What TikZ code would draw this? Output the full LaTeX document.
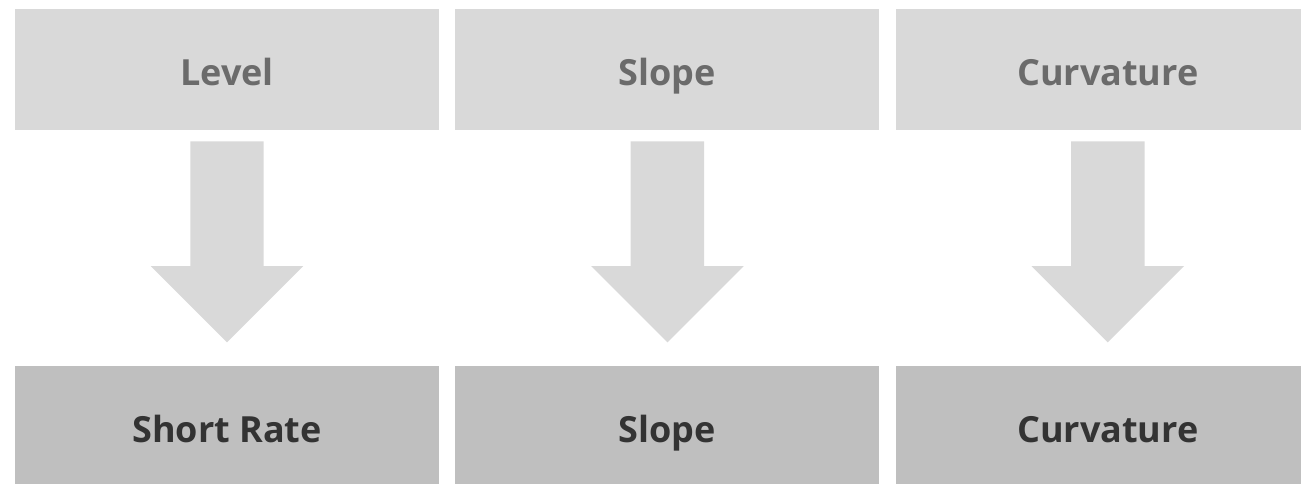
\documentclass[tikz,border=0pt]{standalone}
\usepackage{fontspec}
\setmainfont{Open Sans}
\definecolor{factorfill}{RGB}{217, 217, 217}
\definecolor{resultfill}{RGB}{191, 191, 191}
\definecolor{factortext}{RGB}{107, 107, 107}
\definecolor{resulttext}{RGB}{51, 51, 51}
\usetikzlibrary{positioning, shapes.arrows}
\tikzset{
    factorbox/.style={fill=factorfill, text=factortext, minimum width=424pt,
        minimum height=121pt, inner sep=0pt, text height=31pt, text depth=0pt,
        font=\fontsize{36}{43}\selectfont\bfseries},
    resultbox/.style={factorbox, fill=resultfill, text=resulttext},
    downarrow/.style={single arrow, fill=factorfill, inner sep=36.5pt,
        minimum height=201pt, single arrow head extend=39.5pt,
        single arrow tip angle=90, shape border rotate=270},
}

\begin{document}
\begin{tikzpicture}[x=1pt, y=1pt]
    \useasboundingbox (0, 0) rectangle (1301, -483);
    \node[factorbox] (level) at (227, -69.5) {Level};
    \node[factorbox, right=16pt of level] (slope) {Slope};
    \node[factorbox, right=16pt of slope] (curv) {Curvature};
    \node[resultbox, below=236pt of level] (short) {Short Rate};
    \node[resultbox, below=236pt of slope] (slopeout) {Slope};
    \node[resultbox, below=236pt of curv] (curvout) {Curvature};
    \foreach \from in {level, slope, curv}
        \node[downarrow, below=11pt of \from, anchor=tail] (\from arrow) {};
\end{tikzpicture}
\end{document}
